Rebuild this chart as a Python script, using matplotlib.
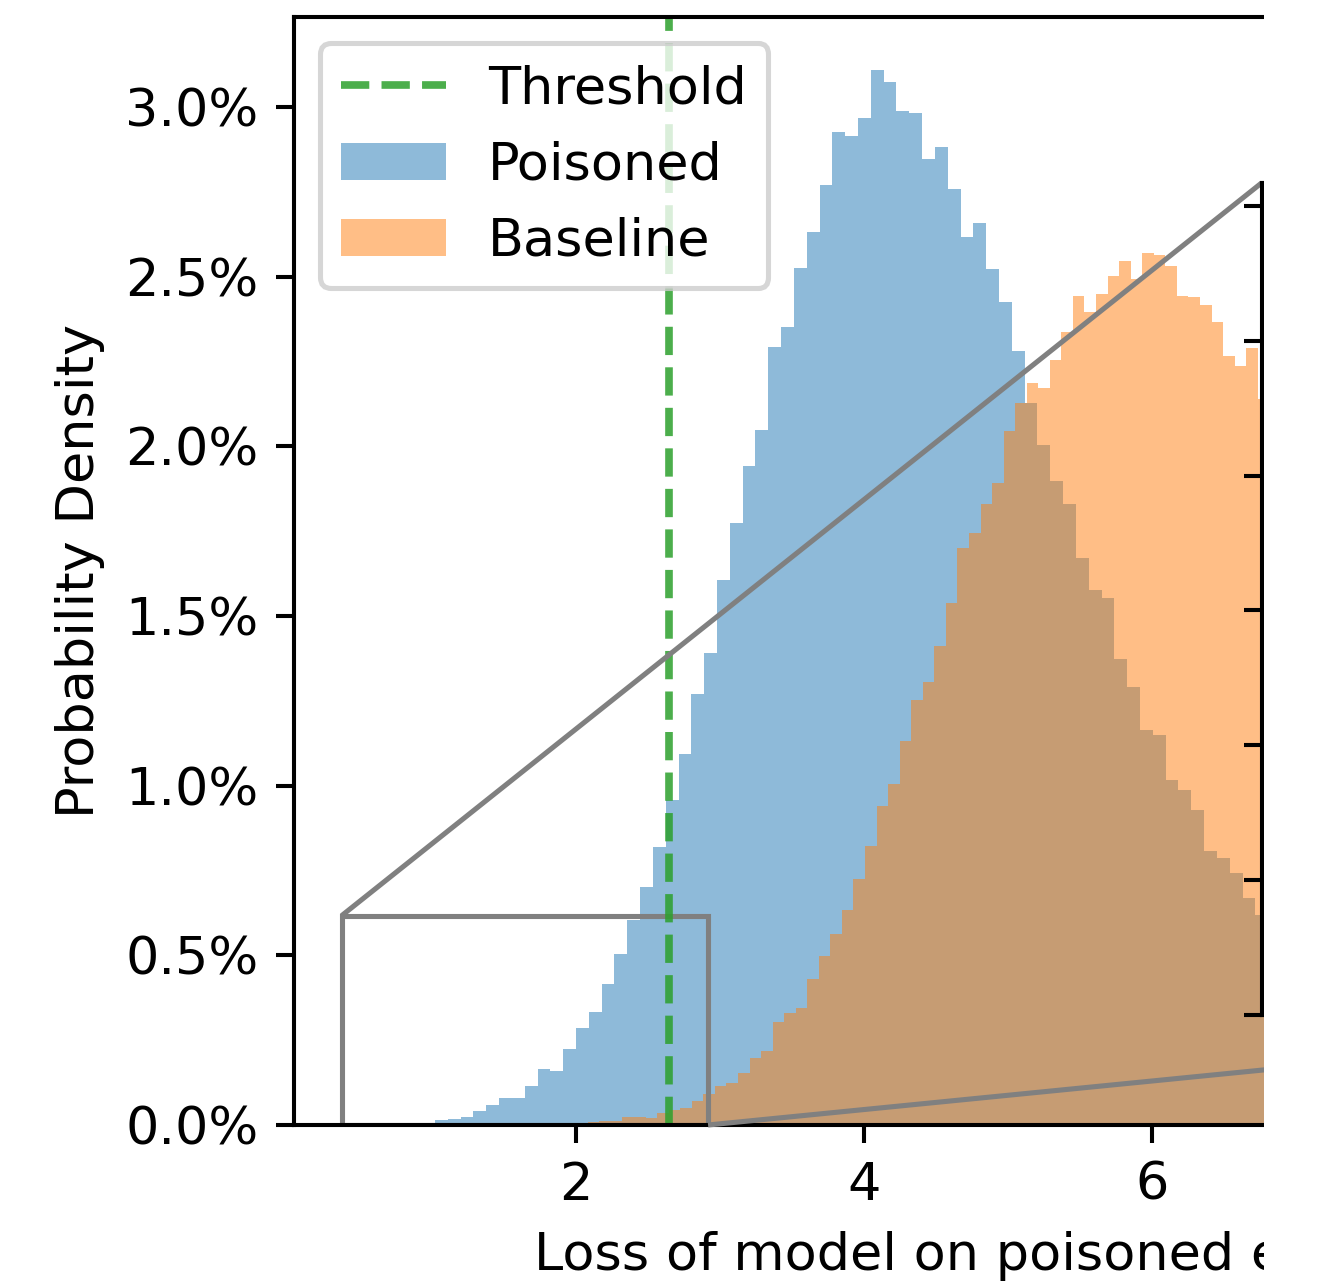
import numpy as np
import matplotlib
matplotlib.use("Agg")
import matplotlib.pyplot as plt
from matplotlib.patches import Rectangle
from matplotlib.ticker import PercentFormatter
from mpl_toolkits.axes_grid1.inset_locator import mark_inset

# Poisoned histogram: bin heights in percent, bins of equal width
poisoned_bin_start = 1.021
poisoned_bin_width = 0.0890
poisoned_pct = [
    0.015, 0.019, 0.024, 0.042, 0.058, 0.079, 0.080, 0.115, 0.165, 0.160,
    0.224, 0.286, 0.333, 0.415, 0.505, 0.603, 0.702, 0.819, 0.958, 1.093,
    1.270, 1.390, 1.606, 1.774, 1.942, 2.047, 2.293, 2.353, 2.525, 2.632,
    2.770, 2.927, 2.915, 2.969, 3.110, 3.073, 2.988, 2.984, 2.847, 2.881,
    2.760, 2.616, 2.658, 2.522, 2.426, 2.281, 2.129, 2.003, 1.898, 1.829,
    1.672, 1.578, 1.554, 1.372, 1.290, 1.163, 1.150, 1.018, 0.986, 0.929,
    0.809, 0.787, 0.742, 0.669, 0.619,
]

# Baseline histogram
baseline_bin_start = 2.082
baseline_bin_width = 0.0802
baseline_pct = [
    0.010, 0.012, 0.013, 0.025, 0.025, 0.022, 0.034, 0.044, 0.049, 0.072,
    0.090, 0.115, 0.123, 0.152, 0.197, 0.218, 0.304, 0.330, 0.344, 0.429,
    0.498, 0.564, 0.633, 0.725, 0.821, 0.939, 1.004, 1.131, 1.254, 1.307,
    1.412, 1.538, 1.700, 1.745, 1.829, 1.893, 2.045, 2.129, 2.188, 2.173,
    2.255, 2.338, 2.443, 2.396, 2.448, 2.502, 2.547, 2.493, 2.571, 2.563,
    2.532, 2.443, 2.440, 2.418, 2.368, 2.266, 2.237, 2.291, 2.139,
]

threshold = 2.648
zoom_x = (0.373, 2.917)
zoom_y = (0.0, 0.617)

plt.rcParams['font.size'] = 10.3

W, H, DPI = 1327, 1286, 367
fig = plt.figure(figsize=(W / DPI, H / DPI), dpi=DPI)


def px_box(left, top, right, bottom):
    return [left / W, 1 - bottom / H, (right - left) / W, (bottom - top) / H]


def edges(start, width, n):
    return start + width * np.arange(n + 1)


p_edges = edges(poisoned_bin_start, poisoned_bin_width, len(poisoned_pct))
b_edges = edges(baseline_bin_start, baseline_bin_width, len(baseline_pct))


def draw_hists(a, label=True):
    a.hist(p_edges[:-1], bins=p_edges, weights=poisoned_pct, alpha=0.5,
           color='tab:blue', label='Poisoned' if label else None)
    a.hist(b_edges[:-1], bins=b_edges, weights=baseline_pct, alpha=0.5,
           color='tab:orange', label='Baseline' if label else None)


ax = fig.add_axes(px_box(294, 17, 1744, 1125))
ax.axvline(threshold, color='tab:green', linestyle='--', linewidth=1.5,
           alpha=0.85, label='Threshold')
draw_hists(ax)
ax.set_xlim(0.042, 10.11)
ax.set_ylim(0, max(poisoned_pct) * 1.05)
ax.set_xticks([2, 4, 6])
ax.set_yticks(np.arange(0, 3.01, 0.5))
ax.yaxis.set_major_formatter(PercentFormatter(100, decimals=1))
ax.set_xlabel('Loss of model on poisoned examples')
ax.set_ylabel('Probability Density')
ax.legend(loc='upper left')

# zoomed inset (mostly outside the visible crop)
axins = fig.add_axes(px_box(1261.5, 183, 1818, 1015))
axins.axvline(threshold, color='tab:green', linestyle='--', linewidth=1.5,
              alpha=0.85)
draw_hists(axins, label=False)
axins.set_xlim(*zoom_x)
axins.set_ylim(*zoom_y)
axins.set_yticks(np.arange(0, 0.61, 0.1))
axins.tick_params(labelleft=False, labelbottom=False)
mark_inset(ax, axins, loc1=2, loc2=4, fc='none', ec='0.5')

# the picture is cropped on the right
fig.add_artist(Rectangle((1263.5 / W, 0), 1, 1, transform=fig.transFigure,
                         facecolor='white', edgecolor='none', zorder=1000))

fig.savefig('out.png', dpi=DPI)
